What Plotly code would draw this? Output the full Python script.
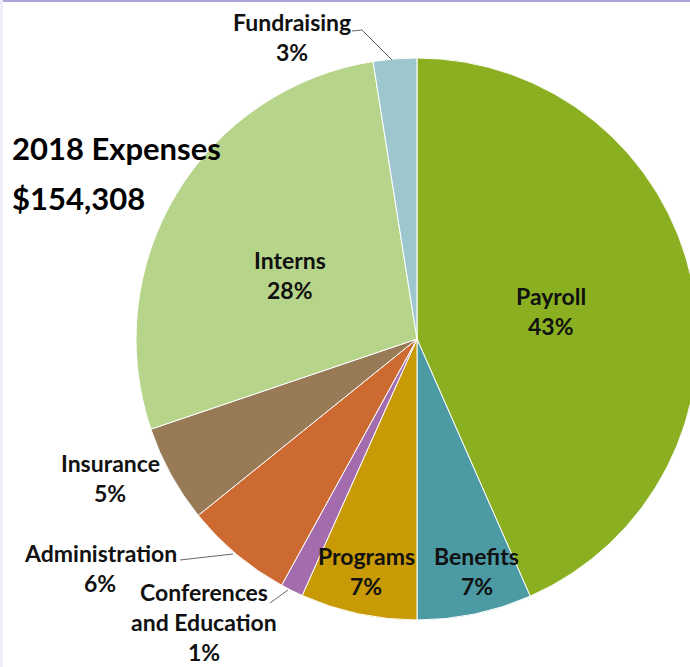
import plotly.graph_objects as go

# ---- data ----
categories = ["Payroll", "Benefits", "Programs", "Conferences and Education",
              "Administration", "Insurance", "Interns", "Fundraising"]
shares = [43.4, 6.6, 6.7, 1.3, 6.2, 5.6, 27.7, 2.5]
pct_labels = ["43%", "7%", "7%", "1%", "6%", "5%", "28%", "3%"]
display_names = ["Payroll", "Benefits", "Programs", "Conferences<br>and Education",
                 "Administration", "Insurance", "Interns", "Fundraising"]
title_lines = ["2018 Expenses", "$154,308"]

# ---- styles ----
colors = ["#8AB022", "#4C9AA4", "#C89A05", "#A46CAC",
          "#CC6A32", "#987A57", "#B6D58B", "#9DC6CF"]
# centre of the first text line of each label (pixels from top-left)
label_pos = [(551, 296), (477, 556), (366, 556), (204, 592),
             (100, 553), (110, 463), (290, 260), (292, 22)]
LINE_STEP = 30
W, H = 700, 667          # figure is a bit wider than the 690 px window: pie is clipped at right
FONT = "Lato"
cx, cy, r = 417, 339, 281

fig = go.Figure(go.Pie(
    labels=categories, values=shares, sort=False, direction="clockwise",
    rotation=0, marker=dict(colors=colors, line=dict(color="white", width=1)),
    textinfo="none", hoverinfo="label+percent", showlegend=False,
    domain=dict(x=[(cx - r) / W, (cx + r) / W], y=[1 - (cy + r) / H, 1 - (cy - r) / H]),
))

for name, pct, (px, py) in zip(display_names, pct_labels, label_pos):
    lines = name.split("<br>") + [pct]
    for k, line in enumerate(lines):
        fig.add_annotation(x=px / W, y=1 - (py + LINE_STEP * k) / H,
                           xref="paper", yref="paper",
                           text=f"<b>{line}</b>", showarrow=False,
                           xanchor="center", yanchor="middle", borderpad=0,
                           font=dict(family=FONT, size=23, color="#111111"))

# leader lines
leaders = [
    [(352, 31), (362, 30), (392, 60)],
    [(180, 560), (233, 554)],
    [(270, 603), (288, 590)],
]
for pts in leaders:
    path = "M " + " L ".join(f"{x / W},{1 - y / H}" for x, y in pts)
    fig.add_shape(type="path", path=path, xref="paper", yref="paper",
                  line=dict(color="#666666", width=1))

for i, t in enumerate(title_lines):
    fig.add_annotation(x=10 / W, y=1 - (148 + 50 * i) / H, xref="paper", yref="paper",
                       text=f"<b>{t}</b>", showarrow=False, xanchor="left",
                       yanchor="middle", font=dict(family=FONT, size=31, color="#000000"))

# slide frame edges
fig.add_shape(type="rect", x0=0, x1=1, y0=1 - 2 / H, y1=1, xref="paper", yref="paper",
              fillcolor="#A9A6D9", line=dict(width=0), layer="above")
fig.add_shape(type="rect", x0=0, x1=3 / W, y0=0, y1=1, xref="paper", yref="paper",
              fillcolor="#EEEDF8", line=dict(width=0), layer="above")

fig.update_layout(width=W, height=H, margin=dict(l=0, r=0, t=0, b=0),
                  paper_bgcolor="white", plot_bgcolor="white")
fig.write_html("out.html", config={"displayModeBar": False},
               post_script="document.body.style.margin='0';document.body.style.overflow='hidden';")
